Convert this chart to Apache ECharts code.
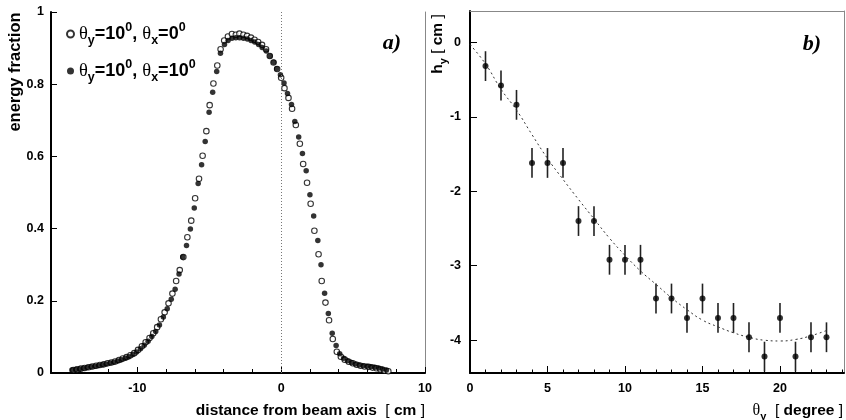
<!DOCTYPE html>
<html><head><meta charset="utf-8">
<script src="https://cdn.jsdelivr.net/npm/echarts@6/dist/echarts.min.js"></script>
<style>html,body{margin:0;padding:0;background:#fff}#c{width:846px;height:420px}</style>
</head><body><div id="c"></div>
<script>
// ---- panel a) energy fraction vs distance from beam axis ----
const xOpen = [-14.45,-14.19,-13.92,-13.66,-13.39,-13.13,-12.86,-12.60,-12.33,-12.07,-11.80,-11.54,-11.27,-11.01,-10.74,-10.48,-10.21,-9.95,-9.68,-9.42,-9.15,-8.89,-8.62,-8.36,-8.10,-7.83,-7.56,-7.30,-7.05,-6.80,-6.52,-6.25,-5.98,-5.71,-5.46,-5.20,-4.97,-4.71,-4.44,-4.21,-3.96,-3.70,-3.42,-3.15,-2.90,-2.62,-2.37,-2.10,-1.85,-1.60,-1.33,-1.05,-0.79,-0.53,-0.28,0.00,0.23,0.51,0.76,1.02,1.30,1.53,1.80,2.05,2.31,2.60,2.82,3.08,3.33,3.59,3.87,4.15,4.42,4.70,4.98,5.25,5.52,5.80,6.08,6.35,6.62,6.90,7.18,7.45];
const yOpen = [0.008,0.010,0.012,0.014,0.016,0.018,0.020,0.022,0.024,0.027,0.029,0.032,0.036,0.040,0.044,0.049,0.055,0.064,0.074,0.085,0.097,0.110,0.127,0.149,0.168,0.193,0.220,0.255,0.285,0.321,0.376,0.422,0.484,0.538,0.602,0.670,0.742,0.802,0.852,0.897,0.921,0.932,0.939,0.937,0.940,0.937,0.934,0.929,0.923,0.917,0.909,0.897,0.878,0.860,0.842,0.818,0.789,0.762,0.732,0.687,0.635,0.579,0.527,0.469,0.394,0.329,0.255,0.195,0.146,0.094,0.059,0.045,0.037,0.031,0.027,0.023,0.020,0.018,0.017,0.015,0.013,0.010,0.007,0.005];
const xFilled = [-14.55,-14.28,-14.02,-13.75,-13.49,-13.22,-12.96,-12.70,-12.43,-12.17,-11.90,-11.64,-11.37,-11.11,-10.84,-10.58,-10.31,-10.05,-9.78,-9.52,-9.25,-8.99,-8.72,-8.46,-8.19,-7.92,-7.64,-7.37,-7.10,-6.84,-6.58,-6.31,-6.04,-5.77,-5.53,-5.28,-5.01,-4.76,-4.48,-4.22,-3.94,-3.69,-3.42,-3.15,-2.89,-2.62,-2.35,-2.09,-1.84,-1.57,-1.32,-1.03,-0.78,-0.52,-0.31,-0.05,0.20,0.44,0.72,0.95,1.22,1.48,1.74,2.00,2.26,2.55,2.77,3.02,3.28,3.55,3.82,4.07,4.34,4.62,4.89,5.16,5.43,5.70,5.97,6.24,6.51,6.78,7.05,7.32];
const yFilled = [0.008,0.010,0.011,0.013,0.015,0.017,0.019,0.021,0.023,0.025,0.028,0.030,0.033,0.037,0.041,0.045,0.051,0.058,0.067,0.077,0.088,0.101,0.115,0.133,0.155,0.178,0.204,0.232,0.274,0.321,0.353,0.399,0.457,0.525,0.577,0.641,0.722,0.778,0.835,0.886,0.910,0.921,0.927,0.929,0.929,0.927,0.925,0.921,0.917,0.910,0.902,0.892,0.878,0.861,0.843,0.826,0.803,0.774,0.744,0.697,0.654,0.608,0.560,0.494,0.435,0.367,0.300,0.221,0.165,0.110,0.076,0.053,0.041,0.034,0.029,0.025,0.022,0.020,0.019,0.017,0.016,0.014,0.011,0.008];
const leftXLabels = [-10, 0, 10];
const leftXMinor = [-14,-12,-8,-6,-4,-2,2,4,6,8];
const leftYTicks = [0, 0.2, 0.4, 0.6, 0.8, 1];

// ---- panel b) h_y vs theta_y ----
const thetaY = [1,2,3,4,5,6,7,8,9,10,11,12,13,14,15,16,17,18,19,20,21,22,23];
const hY = [-0.32,-0.58,-0.84,-1.62,-1.62,-1.62,-2.40,-2.40,-2.92,-2.92,-2.92,-3.44,-3.44,-3.70,-3.44,-3.70,-3.70,-3.96,-4.22,-3.70,-4.22,-3.96,-3.96];
const hErr = [0.2,0.2,0.2,0.2,0.2,0.2,0.2,0.2,0.2,0.2,0.2,0.2,0.2,0.2,0.2,0.2,0.2,0.2,0.2,0.2,0.2,0.2,0.2];
const fitX = [0,1,2,3,4,5,6,7,8,9,10,11,12,13,14,15,16,17,18,19,20,21,22,23];
const fitY = [-0.03,-0.29,-0.63,-0.91,-1.24,-1.56,-1.84,-2.11,-2.37,-2.63,-2.86,-3.07,-3.25,-3.43,-3.59,-3.73,-3.82,-3.90,-3.96,-4.00,-4.01,-3.99,-3.94,-3.87];
const rightXLabels = [0, 5, 10, 15, 20];
const rightXMinor = [1,2,3,4,6,7,8,9,11,12,13,14,16,17,18,19,21,22,23,24];
const rightYTicks = [0, -1, -2, -3, -4];

const F = '"Liberation Sans", Arial, Helvetica, sans-serif';
const S = '"Liberation Serif", "Times New Roman", serif';

const chart = echarts.init(document.getElementById('c'), null, {renderer: 'canvas'});
const lbl = {fontFamily: F, fontWeight: 'bold', fontSize: 12.5, color: '#000'};
const noAxis = {show: false};

const richT = {
  b: {fontFamily: F, fontWeight: 'bold', fontSize: 15.5, lineHeight: 22, fill: '#000', color: '#000'},
  r: {fontFamily: F, fontWeight: 'normal', fontSize: 15.5, lineHeight: 22, fill: '#000', color: '#000'},
  th: {fontFamily: S, fontWeight: 'normal', fontSize: 16, lineHeight: 22, fill: '#000', color: '#000'},
  sub: {fontFamily: F, fontWeight: 'bold', fontSize: 11, lineHeight: 11, verticalAlign: 'bottom', fill: '#000', color: '#000'},
  sup: {fontFamily: F, fontWeight: 'bold', fontSize: 11, lineHeight: 11, verticalAlign: 'top', fill: '#000', color: '#000'}
};
const richL = {
  b: {fontFamily: F, fontWeight: 'bold', fontSize: 18, lineHeight: 26, color: '#000'},
  th: {fontFamily: S, fontWeight: 'normal', fontSize: 18.5, lineHeight: 26, color: '#000'},
  sub: {fontFamily: F, fontWeight: 'bold', fontSize: 12.5, lineHeight: 12, verticalAlign: 'bottom', color: '#000'},
  sup: {fontFamily: F, fontWeight: 'bold', fontSize: 12.5, lineHeight: 12, verticalAlign: 'top', color: '#000'}
};

const option = {
  animation: false,
  backgroundColor: '#fff',
  grid: [
    {left: 51, top: 12, width: 374, height: 361},
    {left: 470, top: 11, width: 374, height: 362}
  ],
  legend: {
    orient: 'vertical', left: 61, top: 16, itemWidth: 7, itemHeight: 7, itemGap: 11,
    selectedMode: false, data: ['open', 'filled'],
    textStyle: {rich: richL},
    formatter: function (name) {
      return name === 'open'
        ? '{th|θ}{sub|y}{b|=10}{sup|0}{b|, }{th|θ}{sub|x}{b|=0}{sup|0}'
        : '{th|θ}{sub|y}{b|=10}{sup|0}{b|, }{th|θ}{sub|x}{b|=10}{sup|0}';
    }
  },
  xAxis: [
    {gridIndex: 0, type: 'value', min: -16, max: 10, position: 'bottom',
     axisLine: {show: true, onZero: false, lineStyle: {color: '#000', width: 2}},
     axisTick: {show: true, inside: true, length: 6, customValues: leftXLabels, lineStyle: {color: '#000'}},
     axisLabel: Object.assign({customValues: leftXLabels, margin: 9}, lbl),
     splitLine: noAxis},
    {gridIndex: 0, type: 'value', min: -16, max: 10, position: 'bottom',
     axisLine: {show: false, onZero: false},
     axisTick: {show: true, inside: true, length: 4, customValues: leftXMinor, lineStyle: {color: '#000'}},
     axisLabel: noAxis, splitLine: noAxis},
    {gridIndex: 1, type: 'value', min: 0, max: 24.13, position: 'bottom',
     axisLine: {show: true, onZero: false, lineStyle: {color: '#000', width: 2}},
     axisTick: {show: true, inside: true, length: 7, customValues: rightXLabels, lineStyle: {color: '#000'}},
     axisLabel: Object.assign({customValues: rightXLabels, margin: 9}, lbl),
     splitLine: noAxis},
    {gridIndex: 1, type: 'value', min: 0, max: 24.13, position: 'bottom',
     axisLine: {show: false, onZero: false},
     axisTick: {show: true, inside: true, length: 3.5, customValues: rightXMinor, lineStyle: {color: '#000'}},
     axisLabel: noAxis, splitLine: noAxis},
    {gridIndex: 1, type: 'value', min: 0, max: 24.13, position: 'top',
     axisLine: {show: true, onZero: false, lineStyle: {color: '#888', width: 1}},
     axisTick: noAxis, axisLabel: noAxis, splitLine: noAxis}
  ],
  yAxis: [
    {gridIndex: 0, type: 'value', min: 0, max: 1, position: 'left',
     axisLine: {show: true, onZero: false, lineStyle: {color: '#000', width: 2}},
     axisTick: {show: true, inside: true, length: 6, customValues: leftYTicks, lineStyle: {color: '#000'}},
     axisLabel: Object.assign({customValues: leftYTicks, margin: 7}, lbl),
     splitLine: noAxis},
    {gridIndex: 0, type: 'value', min: 0, max: 1, position: 'right',
     axisLine: {show: true, onZero: false, lineStyle: {color: '#888', width: 1}},
     axisTick: noAxis, axisLabel: noAxis, splitLine: noAxis},
    {gridIndex: 1, type: 'value', min: -4.44, max: 0.42, position: 'left',
     axisLine: {show: true, onZero: false, lineStyle: {color: '#000', width: 2}},
     axisTick: {show: true, inside: true, length: 7, customValues: rightYTicks, lineStyle: {color: '#000'}},
     axisLabel: Object.assign({customValues: rightYTicks, margin: 9}, lbl),
     splitLine: noAxis},
    {gridIndex: 1, type: 'value', min: -4.44, max: 0.42, position: 'right',
     axisLine: {show: true, onZero: false, lineStyle: {color: '#888', width: 1}},
     axisTick: noAxis, axisLabel: noAxis, splitLine: noAxis}
  ],
  series: [
    {name: 'open', type: 'scatter', xAxisIndex: 0, yAxisIndex: 0, z: 3,
     symbol: 'circle', symbolSize: 5.5,
     itemStyle: {color: '#fff', borderColor: '#000', borderWidth: 1.1},
     data: xOpen.map((x, i) => [x, yOpen[i]]),
     markLine: {silent: true, symbol: ['none', 'none'], label: {show: false},
       lineStyle: {type: [1, 2], color: '#777', width: 1}, data: [{xAxis: 0}]}},
    {name: 'filled', type: 'scatter', xAxisIndex: 0, yAxisIndex: 0, z: 4,
     symbol: 'circle', symbolSize: 5.5,
     itemStyle: {color: '#000'},
     data: xFilled.map((x, i) => [x, yFilled[i]])},
    {name: 'fit', type: 'line', xAxisIndex: 2, yAxisIndex: 2, smooth: true, showSymbol: false,
     lineStyle: {color: '#333', width: 1, type: [2, 3]},
     data: fitX.map((x, i) => [x, fitY[i]])},
    {name: 'err', type: 'custom', xAxisIndex: 2, yAxisIndex: 2, clip: true,
     data: thetaY.map((x, i) => [x, hY[i] - hErr[i], hY[i] + hErr[i]]),
     renderItem: function (params, api) {
       const p1 = api.coord([api.value(0), api.value(1)]);
       const p2 = api.coord([api.value(0), api.value(2)]);
       return {type: 'line', shape: {x1: p1[0], y1: p1[1], x2: p2[0], y2: p2[1]},
               style: {stroke: '#222', lineWidth: 1.6}};
     }},
    {name: 'hy', type: 'scatter', xAxisIndex: 2, yAxisIndex: 2, symbol: 'circle', symbolSize: 6,
     itemStyle: {color: '#000'}, z: 5,
     data: thetaY.map((x, i) => [x, hY[i]])}
  ],
  graphic: [
    {type: 'text', x: 15, y: 72, rotation: Math.PI / 2,
     style: {text: 'energy fraction', font: 'bold 16.5px ' + F, fill: '#000', align: 'center', verticalAlign: 'middle'}},
    {type: 'text', x: 425, y: 411,
     style: {text: '{b|distance from beam axis  }{r|[ }{b|cm}{r| ]}', rich: richT, fill: '#000', align: 'right', verticalAlign: 'middle'}},
    {type: 'text', x: 843, y: 411,
     style: {text: '{th|θ}{sub|y}{b|  }{r|[ }{b|degree}{r| ]}', rich: richT, fill: '#000', align: 'right', verticalAlign: 'middle'}},
    {type: 'text', x: 438, y: 44, rotation: Math.PI / 2,
     style: {text: '{b|h}{sub|y}{b| }{r|[ }{b|cm}{r| ]}', rich: richT, fill: '#000', align: 'center', verticalAlign: 'middle'}},
    {type: 'text', x: 392, y: 43,
     style: {text: 'a)', font: 'italic bold 22px ' + S, fill: '#000', align: 'center', verticalAlign: 'middle'}},
    {type: 'text', x: 812, y: 44,
     style: {text: 'b)', font: 'italic bold 22px ' + S, fill: '#000', align: 'center', verticalAlign: 'middle'}}
  ]
};
chart.setOption(option);
</script>
</body></html>
